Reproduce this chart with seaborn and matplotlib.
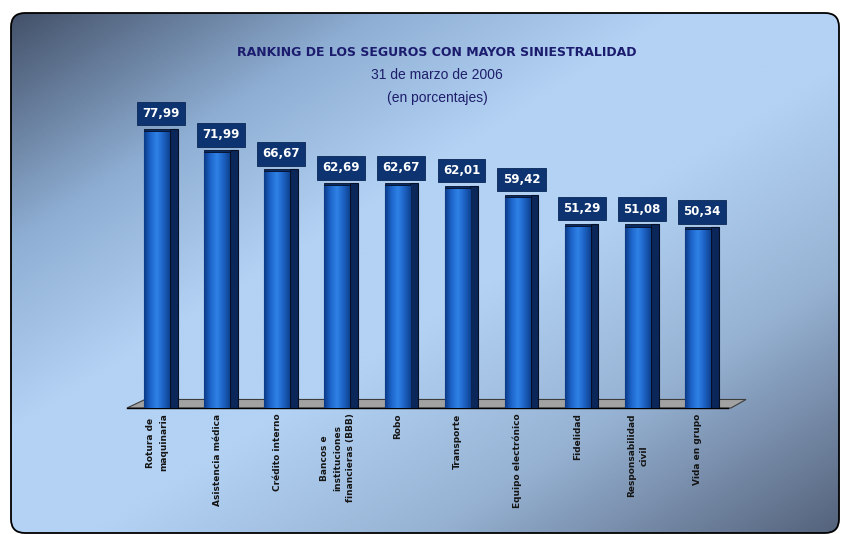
import matplotlib
matplotlib.use('Agg')
import matplotlib.pyplot as plt
import seaborn as sns
import numpy as np
from matplotlib.colors import LinearSegmentedColormap
from matplotlib.patches import FancyBboxPatch, Rectangle, Polygon

# Datos del ranking (31 de marzo de 2006, en porcentajes)
categorias = ['Rotura de\nmaquinaria', 'Asistencia médica', 'Crédito interno',
              'Bancos e\ninstituciones\nfinancieras (BBB)', 'Robo', 'Transporte',
              'Equipo electrónico', 'Fidelidad', 'Responsabilidad\ncivil', 'Vida en grupo']
valores = [77.99, 71.99, 66.67, 62.69, 62.67, 62.01, 59.42, 51.29, 51.08, 50.34]

titulo = 'RANKING DE LOS SEGUROS CON MAYOR SINIESTRALIDAD'
subtitulo_1 = '31 de marzo de 2006'
subtitulo_2 = '(en porcentajes)'

sns.set_style('white')
fig = plt.figure(figsize=(8.44, 5.34), dpi=100)
fig.patch.set_facecolor('white')

# Fondo con degradado y esquinas redondeadas
ax_bg = fig.add_axes([0, 0, 1, 1], zorder=0)
ax_bg.set_xlim(0, 844)
ax_bg.set_ylim(534, 0)
ax_bg.axis('off')
fondo_cmap = LinearSegmentedColormap.from_list(
    'fondo', [(0.0, '#44526a'), (0.22, '#8eaed3'), (0.4, '#b3d2f4'), (0.55, '#b3d2f4'),
              (0.75, '#97b3d4'), (1.0, '#55637c')])
gx, gy = np.meshgrid(np.linspace(0, 1, 300), np.linspace(0, 1, 200))
grad = (gx + gy) / 2
panel = FancyBboxPatch((11, 13), 828, 520, boxstyle='round,pad=0,rounding_size=14',
                       facecolor='none', edgecolor='black', linewidth=1.3, zorder=2)
ax_bg.add_patch(panel)
img = ax_bg.imshow(grad, cmap=fondo_cmap, extent=(11, 839, 533, 13), aspect='auto', zorder=1)
img.set_clip_path(panel)

# Gráfico principal
ax = fig.add_axes([127 / 844, (534 - 408) / 534, 601 / 844, 298 / 534], zorder=1)
ax.set_facecolor('none')
sns.barplot(x=categorias, y=valores, ax=ax, width=0.43, color='#1f5fc0',
            edgecolor='#061634', linewidth=0.8, zorder=3)

# Piso gris en perspectiva
piso = Polygon([(-0.5, 0), (-0.2, 2.4), (9.8, 2.4), (9.55, 0)], closed=True,
               facecolor='#a2a2a2', edgecolor='#3c3c3c', linewidth=0.8,
               clip_on=False, zorder=1)
ax.add_patch(piso)

cyl = LinearSegmentedColormap.from_list(
    'cil', ['#0b3a86', '#1e66cc', '#2f82e6', '#1d62c4', '#0f428f'])
prof = 0.13
for p, v in zip(ax.patches[:len(valores)], valores):
    x0, w, h = p.get_x(), p.get_width(), p.get_height()
    im = ax.imshow(np.linspace(0, 1, 64).reshape(1, -1), cmap=cyl, aspect='auto',
                   extent=(x0, x0 + w, 0, h), zorder=3.5)
    im.set_clip_path(p)
    ax.add_patch(Rectangle((x0 + w, 0), prof, h + 0.6, facecolor='#0b2658',
                           edgecolor='#050f26', linewidth=0.8, zorder=3))
    ax.add_patch(Rectangle((x0, h), w, 0.6, facecolor='#0a2a62',
                           edgecolor='#050f26', linewidth=0.6, zorder=4))
    ax.annotate(f'{v:.2f}'.replace('.', ','), (x0 + (w + prof) / 2, h + 0.6),
                xytext=(0, 11), textcoords='offset points', ha='center', va='center',
                color='white', fontsize=8.5, fontweight='bold', zorder=6,
                bbox=dict(boxstyle='square,pad=0.45', facecolor='#0d3470',
                          edgecolor='#0a2755', linewidth=0.6))
ax.set_xlim(-0.5, 9.5)
ax.set_ylim(0, 83.9)

# Ejes
for s in ['top', 'right', 'left']:
    ax.spines[s].set_visible(False)
ax.spines['bottom'].set_color('black')
ax.spines['bottom'].set_linewidth(1.0)
ax.set_yticks([])
ax.set_xticks(range(len(categorias)))
ax.set_xticks(np.arange(-0.5, len(categorias), 1), minor=True)
ax.tick_params(axis='x', which='major', length=0, pad=4)
ax.tick_params(axis='x', which='minor', length=4, width=0.8, color='black', direction='out')
ax.set_xticklabels(categorias, rotation=90, fontsize=6.5, fontweight='bold',
                   color='#151515', va='top', ha='center', multialignment='center',
                   linespacing=1.6)

# Títulos
fig.text(437 / 844, 1 - 52 / 534, titulo, ha='center', va='center', fontsize=9,
         fontweight='bold', color='#1c1c6e', family='DejaVu Sans')
fig.text(437 / 844, 1 - 75 / 534, subtitulo_1, ha='center', va='center', fontsize=10,
         color='#1e1e6a', family='Liberation Sans')
fig.text(437 / 844, 1 - 98 / 534, subtitulo_2, ha='center', va='center', fontsize=10,
         color='#1e1e6a', family='Liberation Sans')

plt.savefig('out.png', dpi=100)
